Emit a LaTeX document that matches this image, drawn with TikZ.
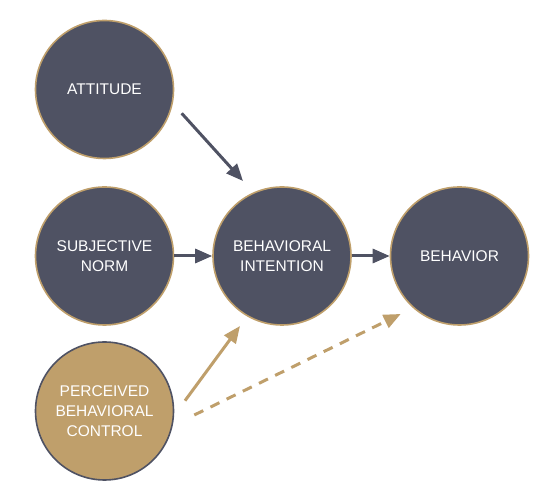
\documentclass[tikz,border=0pt]{standalone}
\usepackage{fontspec}
\setmainfont{Liberation Sans}
\usetikzlibrary{arrows.meta}
\definecolor{slate}{HTML}{4F5263}
\definecolor{gold}{HTML}{BF9F6B}
\tikzset{
  darkcirc/.style={circle, fill=slate, draw=gold, line width=1.6pt, minimum size=138pt, inner sep=0pt, text=white, align=center, font=\fontsize{15.5}{20}\selectfont},
  goldcirc/.style={darkcirc, fill=gold, draw=slate},
  solidarrow/.style={line width=3pt, -{Triangle[length=17pt,width=14pt]}},
}
\begin{document}
\begin{tikzpicture}[x=1pt,y=1pt]
\useasboundingbox (0,0) rectangle (560,500);
\node[darkcirc] (att) at (104.5,410.5) {ATTITUDE};
\node[darkcirc] (sn) at (104.5,244) {SUBJECTIVE\\NORM};
\node[goldcirc] (pbc) at (104.5,89) {PERCEIVED\\BEHAVIORAL\\CONTROL};
\node[darkcirc] (bi) at (282,244) {BEHAVIORAL\\INTENTION};
\node[darkcirc] (beh) at (459.5,244) {BEHAVIOR};
\coordinate (a1s) at (181.7,386.7);
\coordinate (a1e) at (243,319);
\coordinate (a4s) at (185,99.3);
\coordinate (a4e) at (240,174);
\coordinate (a5s) at (194.3,85);
\coordinate (a5e) at (400.7,186);
\draw[solidarrow, slate] (a1s) -- (a1e);
\draw[solidarrow, slate] (sn.east) -- (bi.west);
\draw[solidarrow, slate] (bi.east) -- (beh.west);
\draw[solidarrow, gold] (a4s) -- (a4e);
\draw[solidarrow, gold, dash pattern=on 10pt off 8pt] (a5s) -- (a5e);
\end{tikzpicture}
\end{document}
